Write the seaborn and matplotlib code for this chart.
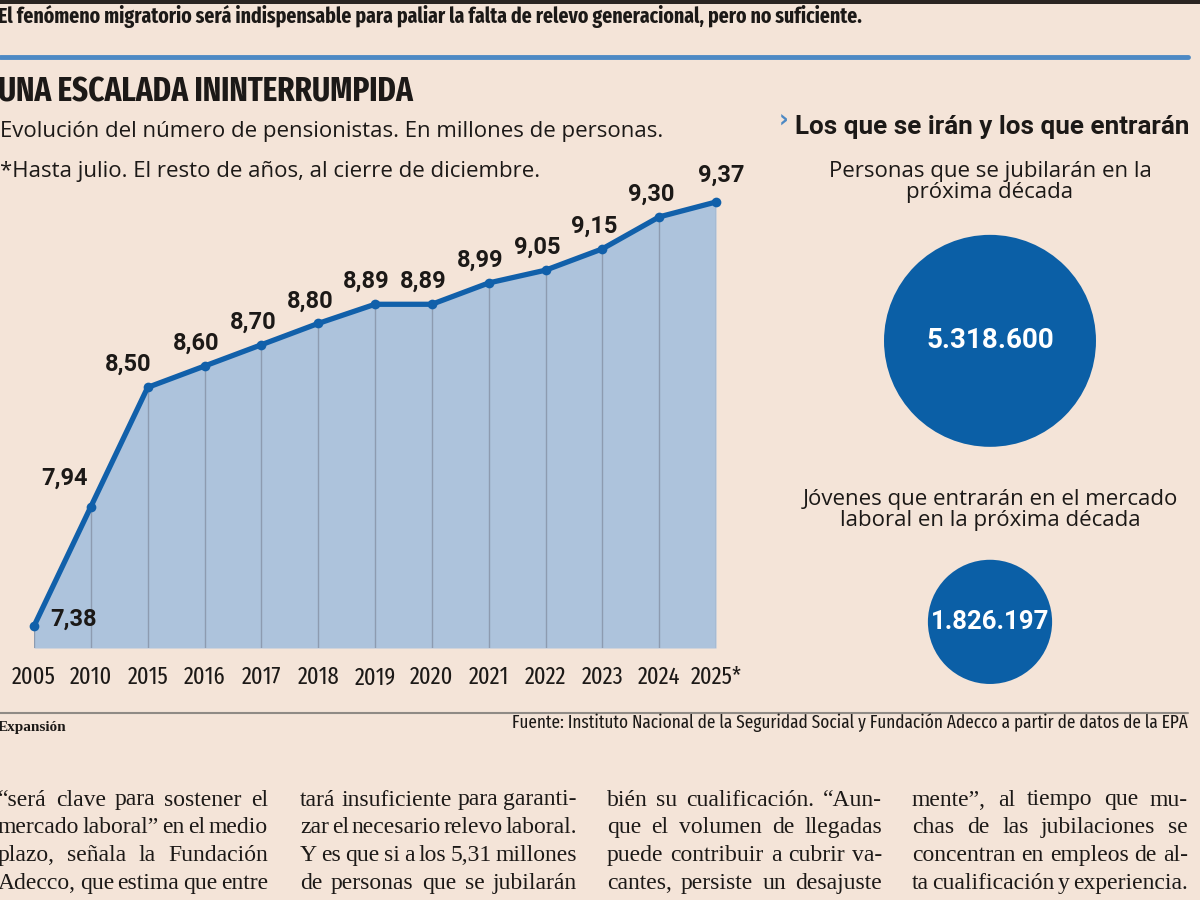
import matplotlib
matplotlib.use("Agg")
import matplotlib.pyplot as plt
import seaborn as sns
import numpy as np
from matplotlib import font_manager
from matplotlib.font_manager import FontProperties
from matplotlib.lines import Line2D
from matplotlib.patches import Rectangle

# datos
years = ["2005", "2010", "2015", "2016", "2017", "2018", "2019",
         "2020", "2021", "2022", "2023", "2024", "2025*"]
pensionistas = [7.38, 7.94, 8.50, 8.60, 8.70, 8.80, 8.89,
                8.89, 8.99, 9.05, 9.15, 9.30, 9.37]
labels = ["7,38", "7,94", "8,50", "8,60", "8,70", "8,80", "8,89",
          "8,89", "8,99", "9,05", "9,15", "9,30", "9,37"]

circle_cats = ["Personas que se jubilarán en la\npróxima década",
               "Jóvenes que entrarán en el mercado\nlaboral en la próxima década"]
circle_vals = [5318600, 1826197]
circle_labels = ["5.318.600", "1.826.197"]

body_cols = [
    ["\u201cserá clave para sostener el", "mercado laboral\u201d en el medio",
     "plazo, señala la Fundación", "Adecco, que estima que entre"],
    ["tará insuficiente para garanti-", "zar el necesario relevo laboral.",
     "Y es que si a los 5,31 millones", "de personas que se jubilarán"],
    ["bién su cualificación. \u201cAun-", "que el volumen de llegadas",
     "puede contribuir a cubrir va-", "cantes, persiste un desajuste"],
    ["mente\u201d, al tiempo que mu-", "chas de las jubilaciones se",
     "concentran en empleos de al-", "ta cualificación y experiencia."],
]

BG = "#f4e4d8"
FILL = "#adc3dc"
LINE = "#1160aa"
CIRC = "#0b5fa6"
RULE = "#4d89c4"
INK = "#1c1917"

sns.set_style("white", rc={"axes.facecolor": BG, "figure.facecolor": BG})
plt.rcParams["font.family"] = ["Open Sans", "DejaVu Sans"]


def wnum(w):
    if isinstance(w, (int, float)):
        return int(w)
    return {"bold": 700, "semibold": 600, "demibold": 600, "medium": 500,
            "normal": 400, "regular": 400, "book": 400, "light": 300,
            "heavy": 800, "black": 900}.get(str(w).lower(), 400)


STRETCH_RANK = {"ultra-condensed": 0, "extra-condensed": 1, "condensed": 2,
                "semi-condensed": 3}


def find_condensed(target):
    best = None
    for f in font_manager.fontManager.ttflist:
        nm = f.name.lower().replace(" ", "")
        st = str(f.stretch).lower()
        if "extracondensed" in nm:
            rank = 1
        elif "condensed" in nm or "narrow" in nm:
            rank = 2
        else:
            rank = STRETCH_RANK.get(st)
        if rank is None or f.style != "normal":
            continue
        # nada de medium / black en el nombre para el peso normal
        fn = f.fname.lower()
        w = wnum(f.weight)
        if target == 400 and any(k in fn for k in ("medium", "semibold", "bold", "black",
                                                     "light", "thin")):
            continue
        key = (rank, abs(w - target))
        if best is None or key < best[0]:
            best = (key, f.fname)
    return best[1] if best else None


fb = find_condensed(700)
fr = find_condensed(400)
COND_B = FontProperties(fname=fb) if fb else FontProperties(family="Roboto", weight="bold")
COND_R = FontProperties(fname=fr) if fr else FontProperties(family="Roboto")


def cfont(bold, size):
    fp = (COND_B if bold else COND_R).copy()
    fp.set_size(size)
    return fp


W, H = 1200, 900
fig = plt.figure(figsize=(12, 9), dpi=100)
renderer = fig.canvas.get_renderer()


def fx(x):
    return x / W


def fy(y):
    return 1 - y / H


def fit_text(x, y, s, fp, width, **kw):
    # ajusta el tamaño para que el texto ocupe el ancho dado
    t = fig.text(fx(x), fy(y), s, fontproperties=fp, **kw)
    wd = t.get_window_extent(renderer).width
    fp.set_size(fp.get_size() * width / wd)
    t.set_fontproperties(fp)
    return t


# cabecera
fig.add_artist(Rectangle((0, fy(4)), 1, 4 / H, transform=fig.transFigure,
                         color="#2a2522", lw=0))
fit_text(-2, 16, "El fenómeno migratorio será indispensable para paliar la falta "
         "de relevo generacional, pero no suficiente.", cfont(True, 13), 867,
         color=INK, va="center")
fig.add_artist(Line2D([0, fx(1188)], [fy(57), fy(57)], transform=fig.transFigure,
                      color=RULE, lw=3.5))
fit_text(-2, 92, "UNA ESCALADA ININTERRUMPIDA", cfont(True, 27), 416,
         color=INK, va="center")
fig.text(fx(0), fy(131), "Evolución del número de pensionistas. En millones de personas.",
         fontsize=16, color=INK, va="center")
fig.text(fx(0), fy(172), "*Hasta julio. El resto de años, al cierre de diciembre.",
         fontsize=16, color=INK, va="center")

# grafico de area
ymin, ymax = 7.277, 9.614
ax = fig.add_axes([fx(34), fy(648), (716 - 34) / W, (648 - 150) / H])
pos = np.arange(len(years))
ax.fill_between(pos, pensionistas, ymin, color=FILL, lw=0)
ax.vlines(pos, ymin, pensionistas, color="#8d9bb0", lw=1)
sns.lineplot(x=pos, y=pensionistas, ax=ax, color=LINE, lw=3.8, marker="o",
             markersize=7, markeredgewidth=0, clip_on=False)
ax.set_xlim(0, len(years) - 1)
ax.set_ylim(ymin, ymax)
ax.set_xticks(pos)
ax.set_xticklabels(years, color=INK)
tick_fp = cfont(False, 16.5)
probe = fig.text(0, 0, "2005", fontproperties=tick_fp)
wd = probe.get_window_extent(renderer).width
probe.remove()
tick_fp.set_size(16.5 * 44 / wd)
for t in ax.get_xticklabels():
    t.set_fontproperties(tick_fp)
ax.tick_params(axis="x", length=0, pad=13)
ax.set_yticks([])
sns.despine(ax=ax, left=True, bottom=True)

for i, (v, lab) in enumerate(zip(pensionistas, labels)):
    if i == 0:
        off, ha, va = (12, 5), "left", "center"
    elif i == 1:
        off, ha, va = (-2, 12), "right", "bottom"
    elif i == 2:
        off, ha, va = (-14, 8), "center", "bottom"
    elif i == len(labels) - 1:
        off, ha, va = (4, 11), "center", "bottom"
    else:
        off, ha, va = (-6, 8), "center", "bottom"
    ax.annotate(lab, (i, v), xytext=off, textcoords="offset points", ha=ha, va=va,
                family="Roboto", weight="bold", fontsize=17, color=INK,
                annotation_clip=False)

# circulos
fig.text(fx(795), fy(127), "Los que se irán y los que entrarán", family="Roboto",
         weight="bold", fontsize=18.7, color=INK, va="center")
fig.text(fx(779), fy(121), "\u203a", family="DejaVu Sans", weight="bold",
         fontsize=17, color=RULE, va="center")

cax = fig.add_axes([fx(860), fy(700), 260 / W, 480 / H])
cax.set_facecolor("none")
scale = 0.00438
cax.scatter([0, 0], [0, 1], s=np.array(circle_vals) * scale, color=CIRC, lw=0)
cax.set_xlim(-1, 1)
cax.set_ylim(1.278, -0.43)
cax.axis("off")
for i, lab in enumerate(circle_labels):
    cax.text(0, i, lab, ha="center", va="center", color="white",
             family="Roboto", weight="bold", fontsize=20 if i == 0 else 18.5)
fig.text(fx(990), fy(182), circle_cats[0], ha="center", va="center",
         fontsize=16, color=INK, linespacing=1.05)
fig.text(fx(990), fy(510), circle_cats[1], ha="center", va="center",
         fontsize=16, color=INK, linespacing=1.05)

# pie
fig.add_artist(Line2D([0, fx(1188)], [fy(713), fy(713)], transform=fig.transFigure,
                      color="#8f8a85", lw=1.5))
fig.text(fx(-2), fy(727), "Expansión", family="Liberation Serif", weight="bold",
         fontsize=11, color=INK, va="center")
fit_text(1188, 723, "Fuente: Instituto Nacional de la Seguridad Social y "
         "Fundación Adecco a partir de datos de la EPA", cfont(False, 13), 678,
         color=INK, va="center", ha="right")

# texto del articulo, justificado
col_x = [(-2, 268), (300, 577), (607, 882), (912, 1188)]
body_size = 17
for (x0, x1), lines in zip(col_x, body_cols):
    for j, line in enumerate(lines):
        y = fy(800 + j * 27.7)
        words = line.split(" ")
        arts = [fig.text(0, y, w_, family="Liberation Serif", fontsize=body_size,
                         color=INK, va="center") for w_ in words]
        widths = [a.get_window_extent(renderer).width for a in arts]
        gap = (x1 - x0 - sum(widths)) / max(len(words) - 1, 1)
        x = x0
        for a, wd_ in zip(arts, widths):
            a.set_x(fx(x))
            x += wd_ + gap

fig.savefig("out.png", dpi=100, facecolor=BG)
